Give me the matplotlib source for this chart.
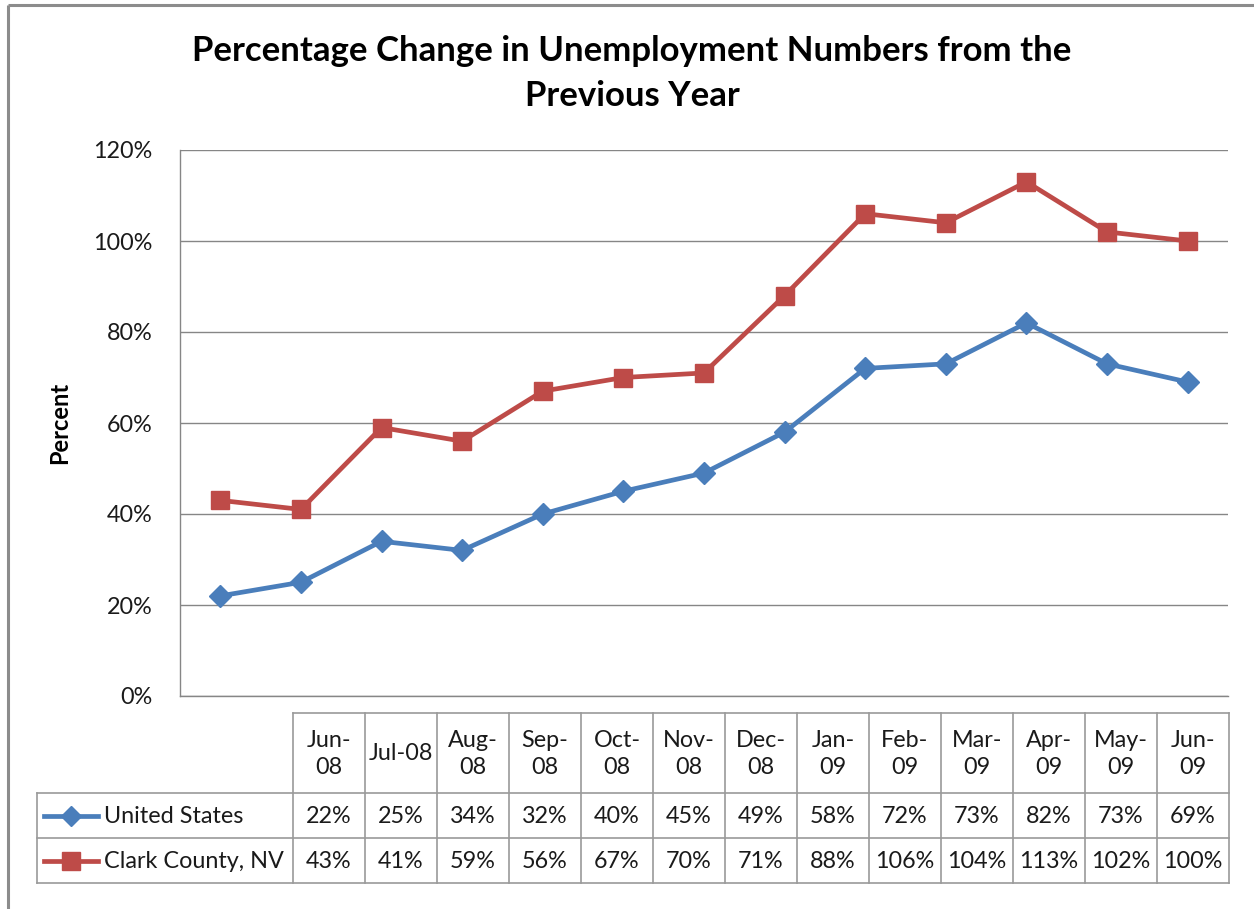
import matplotlib
matplotlib.use("Agg")
import matplotlib.pyplot as plt
from matplotlib.lines import Line2D

plt.rcParams['font.family'] = ['Lato', 'DejaVu Sans']

categories = ["Jun-08", "Jul-08", "Aug-08", "Sep-08", "Oct-08", "Nov-08", "Dec-08",
              "Jan-09", "Feb-09", "Mar-09", "Apr-09", "May-09", "Jun-09"]
header_labels = ["Jun-\n08", "Jul-08", "Aug-\n08", "Sep-\n08", "Oct-\n08", "Nov-\n08", "Dec-\n08",
                 "Jan-\n09", "Feb-\n09", "Mar-\n09", "Apr-\n09", "May-\n09", "Jun-\n09"]
us_values = [22, 25, 34, 32, 40, 45, 49, 58, 72, 73, 82, 73, 69]
clark_values = [43, 41, 59, 56, 67, 70, 71, 88, 106, 104, 113, 102, 100]
series_names = ["United States", "Clark County, NV"]
yticks = [0, 20, 40, 60, 80, 100, 120]

BLUE = "#4A7EBB"
RED = "#BE4B48"
GRID = "#868686"
TXT = "#1a1a1a"
FS = 16.8

W, H = 1254, 909
fig = plt.figure(figsize=(W / 100, H / 100), dpi=100)

# main plot area
ax = fig.add_axes([180 / W, 1 - 696 / H, 1048 / W, 546 / H])
x = list(range(len(categories)))
ax.plot(x, us_values, color=BLUE, lw=3.4, marker="D", ms=11, mfc=BLUE, mec=BLUE, zorder=3)
ax.plot(x, clark_values, color=RED, lw=3.4, marker="s", ms=13, mfc=RED, mec=RED, zorder=3)
ax.set_xlim(-0.5, len(categories) - 0.5)
ax.set_ylim(0, 120)
ax.set_yticks(yticks)
ax.set_yticklabels([f"{v}%" for v in yticks], fontsize=FS, color=TXT)
ax.set_xticks([])
ax.tick_params(axis="y", length=0, pad=20)
ax.grid(axis="y", color=GRID, lw=1)
ax.set_axisbelow(True)
for s in ["top", "right"]:
    ax.spines[s].set_visible(False)
for s in ["left", "bottom"]:
    ax.spines[s].set_color(GRID)
    ax.spines[s].set_linewidth(1)

# overlay in pixel coordinates
ov = fig.add_axes([0, 0, 1, 1], zorder=5)
ov.set_xlim(0, W)
ov.set_ylim(H, 0)
ov.axis("off")
ov.patch.set_alpha(0)

# outer border (left and top)
ov.plot([8, 8], [5, H], color="#8c8c8c", lw=2.2, solid_capstyle="butt")
ov.plot([8, W], [5, 5], color="#8c8c8c", lw=2.2, solid_capstyle="butt")

# title
ov.text(632, 51, "Percentage Change in Unemployment Numbers from the", ha="center", va="center",
        fontsize=25, fontweight="bold", color="black")
ov.text(632, 96, "Previous Year", ha="center", va="center",
        fontsize=25, fontweight="bold", color="black")
ov.text(60, 423, "Percent", ha="center", va="center", rotation=90,
        fontsize=17, fontweight="bold", color="black")

# data table
col0 = 293
cw = 72
ncol = len(categories)
y_top, y_r1, y_r2, y_bot = 713, 793, 838, 883
tc = "#9a9a9a"
x_end = col0 + cw * ncol
ov.plot([col0, x_end], [y_top, y_top], color=tc, lw=1.2)
for yy in (y_r1, y_r2, y_bot):
    ov.plot([37, x_end], [yy, yy], color=tc, lw=1.2)
ov.plot([37, 37], [y_r1, y_bot], color=tc, lw=1.2)
for i in range(ncol + 1):
    xx = col0 + cw * i
    ov.plot([xx, xx], [y_top, y_bot], color=tc, lw=1.2)

for i, lab in enumerate(header_labels):
    cx = col0 + cw * (i + 0.5)
    ov.text(cx, (y_top + y_r1) / 2 + 1, lab, ha="center", va="center", fontsize=FS,
            color=TXT, linespacing=1.3)
    ov.text(cx, (y_r1 + y_r2) / 2 + 1, f"{us_values[i]}%", ha="center", va="center",
            fontsize=FS, color=TXT)
    ov.text(cx, (y_r2 + y_bot) / 2 + 1, f"{clark_values[i]}%", ha="center", va="center",
            fontsize=FS, color=TXT)

# legend keys in table
for (yy, col, mk, ms, name) in [((y_r1 + y_r2) / 2, BLUE, "D", 10, series_names[0]),
                                ((y_r2 + y_bot) / 2, RED, "s", 13, series_names[1])]:
    ov.add_line(Line2D([44, 98], [yy, yy], color=col, lw=3.4))
    ov.add_line(Line2D([71], [yy], color=col, marker=mk, ms=ms, mfc=col, mec=col, lw=0))
    ov.text(104, yy + 1, name, ha="left", va="center", fontsize=FS, color=TXT)

fig.savefig("out.png", dpi=100)
